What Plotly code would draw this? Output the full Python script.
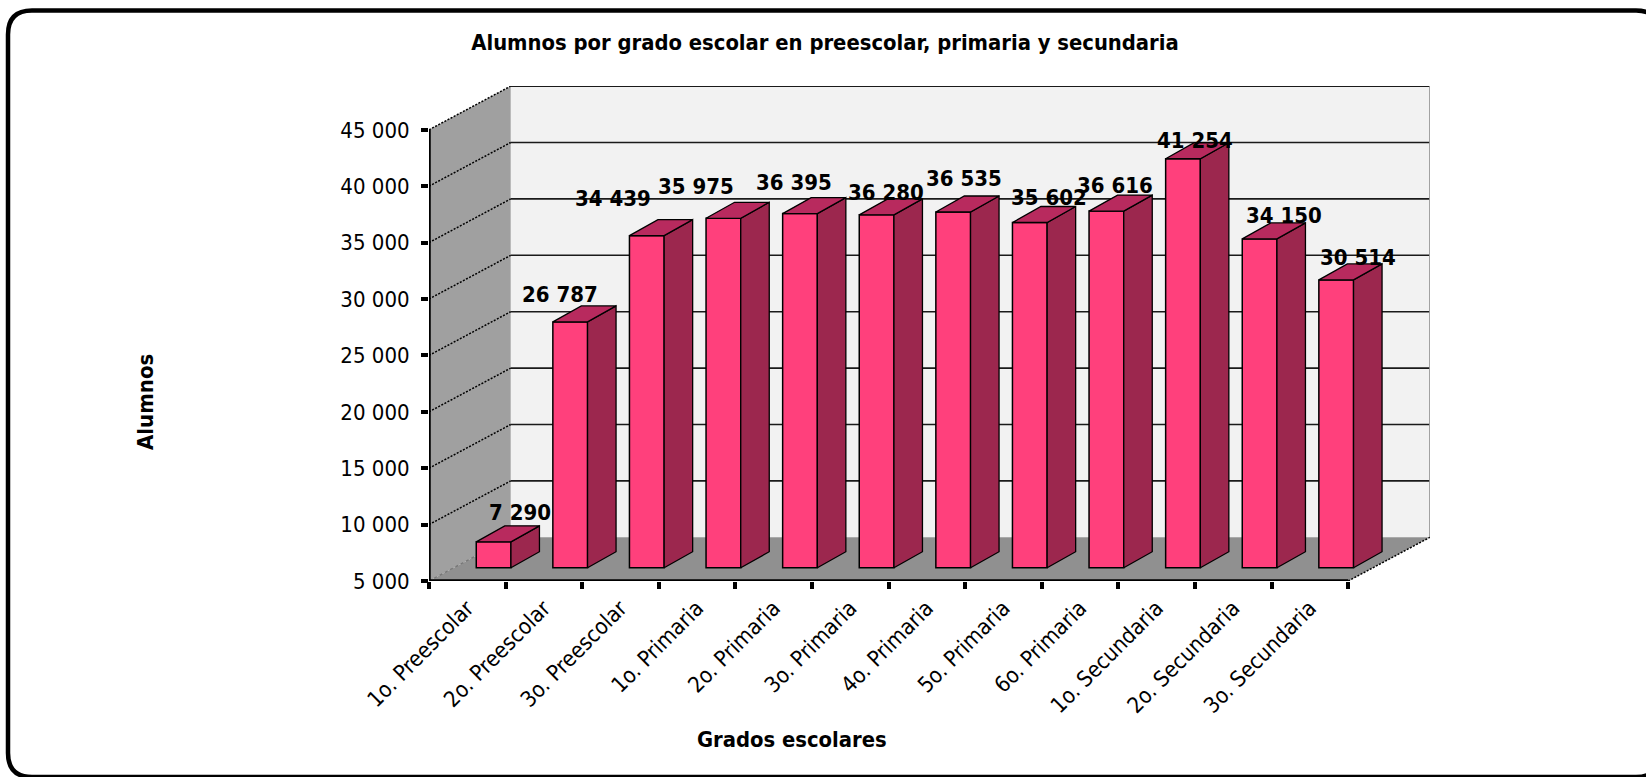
import plotly.graph_objects as go

W, H = 1646, 777

categories = ["1o. Preescolar", "2o. Preescolar", "3o. Preescolar", "1o. Primaria", "2o. Primaria",
              "3o. Primaria", "4o. Primaria", "5o. Primaria", "6o. Primaria", "1o. Secundaria",
              "2o. Secundaria", "3o. Secundaria"]
alumnos = [7290, 26787, 34439, 35975, 36395, 36280, 36535, 35602, 36616, 41254, 34150, 30514]
value_ticks = [5000, 10000, 15000, 20000, 25000, 30000, 35000, 40000, 45000]
value_tick_text = ["5 000", "10 000", "15 000", "20 000", "25 000", "30 000", "35 000", "40 000", "45 000"]
data_labels = ["7 290", "26 787", "34 439", "35 975", "36 395", "36 280", "36 535", "35 602", "36 616",
               "41 254", "34 150", "30 514"]

# label nudges in px, relative to the top of each bar's front face
label_dx = [26, -10, -34, -27, -6, 9, 11, 19, 9, 12, 24, 22]
label_dy = [-29, -27, -37, -32, -31, -22, -33, -25, -26, -18, -23, -22]

# projection (pseudo 3-D) parameters, in axis units
PX_X = 76.6            # px per category
PX_Y = 56.4 / 5000     # px per value unit
LEFT, BOTTOM = 429.0, 581.0
WALL_DX = 81.7 / PX_X
WALL_DY = 43.7 / PX_Y
BAR_SHIFT_X = 26.3 / PX_X
BAR_SHIFT_Y = 13.3 / PX_Y
BAR_W = 34.7 / PX_X
BAR_DX = 28.5 / PX_X
BAR_DY = 16.0 / PX_Y
VMIN, VMAX = value_ticks[0], value_ticks[-1]
NCAT = len(categories)

BACK = "#f2f2f2"; SIDE_WALL = "#a0a0a0"; FLOOR = "#909090"; EDGE = "#999999"
FRONT = "#ff407c"; SIDE = "#9c274e"; TOP = "#b82a5e"
FONT = "DejaVu Sans Condensed, DejaVu Sans"

fig = go.Figure()


def poly(xs, ys, fill, yaxis="y", line_color=None, line_width=0):
    fig.add_trace(go.Scatter(x=xs + xs[:1], y=ys + ys[:1], mode="lines", fill="toself", fillcolor=fill,
                             line=dict(color=line_color or fill, width=line_width), yaxis=yaxis,
                             hoverinfo="skip", showlegend=False, cliponaxis=False))


def line(xs, ys, color="black", width=1.5, dash="solid", yaxis="y"):
    fig.add_trace(go.Scatter(x=xs, y=ys, mode="lines", line=dict(color=color, width=width, dash=dash),
                             yaxis=yaxis, hoverinfo="skip", showlegend=False, cliponaxis=False))


# walls and floor
poly([WALL_DX, NCAT + WALL_DX, NCAT + WALL_DX, WALL_DX],
     [VMIN + WALL_DY, VMIN + WALL_DY, VMAX + WALL_DY, VMAX + WALL_DY], BACK)
poly([0, WALL_DX, WALL_DX, 0], [VMIN, VMIN + WALL_DY, VMAX + WALL_DY, VMAX], SIDE_WALL)
poly([0, NCAT, NCAT + WALL_DX, WALL_DX], [VMIN, VMIN, VMIN + WALL_DY, VMIN + WALL_DY], FLOOR)

# gridlines on the back wall and the side wall
for v in value_ticks[1:]:
    line([WALL_DX, NCAT + WALL_DX], [v + WALL_DY, v + WALL_DY], color="#1a1a1a", width=1.6)
    line([0, WALL_DX], [v, v + WALL_DY], width=1.5, dash="2px,1.5px")
line([0, WALL_DX], [VMIN, VMIN + WALL_DY], color="#777777", width=1.3, dash="dot")
line([NCAT + WALL_DX, NCAT + WALL_DX], [VMIN + WALL_DY, VMAX + WALL_DY], color=EDGE, width=1.6)
line([NCAT, NCAT + WALL_DX], [VMIN, VMIN + WALL_DY], width=1.5, dash="2px,1.5px")

# axis lines
line([0, 0], [VMIN, VMAX], width=3.5)
line([0, NCAT], [VMIN, VMIN], width=3.5)

# bars: front faces are real bars on the shifted value axis, true values
positions = [i + 0.5 + BAR_SHIFT_X for i in range(NCAT)]
fig.add_trace(go.Bar(x=positions, y=[v - VMIN for v in alumnos], base=VMIN, width=BAR_W,
                     marker=dict(color=FRONT, line=dict(color="black", width=1.5)),
                     yaxis="y2", showlegend=False, hoverinfo="skip"))
for p, v in zip(positions, alumnos):
    xl, xr = p - BAR_W / 2, p + BAR_W / 2
    poly([xr, xr + BAR_DX, xr + BAR_DX, xr], [VMIN, VMIN + BAR_DY, v + BAR_DY, v], SIDE, "y2", "black", 1.3)
    poly([xl, xr, xr + BAR_DX, xl + BAR_DX], [v, v, v + BAR_DY, v + BAR_DY], TOP, "y2", "black", 1.3)

annotations = [
    dict(x=p, y=v, xref="x", yref="y2", text=f"<b>{t}</b>", showarrow=False, xshift=dx, yshift=-dy,
         font=dict(family=FONT, size=22, color="black"))
    for p, v, t, dx, dy in zip(positions, alumnos, data_labels, label_dx, label_dy)
]
annotations += [
    dict(x=792 / W, y=1 - 739 / H, xref="paper", yref="paper", xanchor="center", yanchor="middle",
         text="<b>Grados escolares</b>", showarrow=False, font=dict(family=FONT, size=21.8, color="black")),
    dict(x=145 / W, y=1 - 402 / H, xref="paper", yref="paper", xanchor="center", yanchor="middle",
         text="<b>Alumnos</b>", textangle=-90, showarrow=False, font=dict(family=FONT, size=22, color="black")),
]

R = 24
x0, x1, y0, y1 = 8.0 / W, 1660.0 / W, 1 - 10.5 / H, 1 - 777.0 / H
rx, ry = R / W, R / H
border = (f"M {x0+rx} {y0} L {x1-rx} {y0} Q {x1} {y0} {x1} {y0-ry} L {x1} {y1+ry} Q {x1} {y1} {x1-rx} {y1} "
          f"L {x0+rx} {y1} Q {x0} {y1} {x0} {y1+ry} L {x0} {y0-ry} Q {x0} {y0} {x0+rx} {y0} Z")

x_max = NCAT + WALL_DX
y_max = VMAX + WALL_DY
fig.update_layout(
    width=W, height=H, autosize=False, margin=dict(l=0, r=0, t=0, b=0),
    paper_bgcolor="white", plot_bgcolor="rgba(0,0,0,0)", showlegend=False,
    font=dict(family=FONT, color="black"),
    title=dict(text="<b>Alumnos por grado escolar en preescolar, primaria y secundaria</b>",
               x=825 / W, y=1 - 42 / H, xanchor="center", yanchor="middle",
               font=dict(family=FONT, size=21.8, color="black")),
    xaxis=dict(domain=[LEFT / W, (LEFT + x_max * PX_X) / W], range=[0, x_max], showgrid=False, zeroline=False,
               showline=False, automargin=False, tickmode="array", tickvals=[i + 0.5 for i in range(NCAT)],
               ticktext=categories, tickangle=-45, ticks="", ticklabelstandoff=9,
               tickfont=dict(family=FONT, size=22),
               minor=dict(tickmode="array", tickvals=list(range(NCAT + 1)), ticks="outside", ticklen=7,
                          tickwidth=3.5, tickcolor="black", showgrid=False)),
    yaxis=dict(domain=[1 - BOTTOM / H, 1 - (BOTTOM - (y_max - VMIN) * PX_Y) / H],
               range=[VMIN, y_max], showgrid=False, zeroline=False, showline=False, automargin=False,
               tickmode="array", tickvals=value_ticks, ticktext=value_tick_text, ticks="outside", ticklen=7,
               tickwidth=3.5, tickcolor="black", ticklabelstandoff=7, tickfont=dict(family=FONT, size=22)),
    yaxis2=dict(overlaying="y", visible=False, range=[VMIN - BAR_SHIFT_Y, y_max - BAR_SHIFT_Y]),
    shapes=[dict(type="path", path=border, xref="paper", yref="paper", layer="below",
                 line=dict(color="black", width=4.5), fillcolor="white")],
    annotations=annotations,
)

fig.write_html("out.html", config={"displayModeBar": False},
               post_script="document.body.style.margin='0';document.body.style.overflow='hidden';")
